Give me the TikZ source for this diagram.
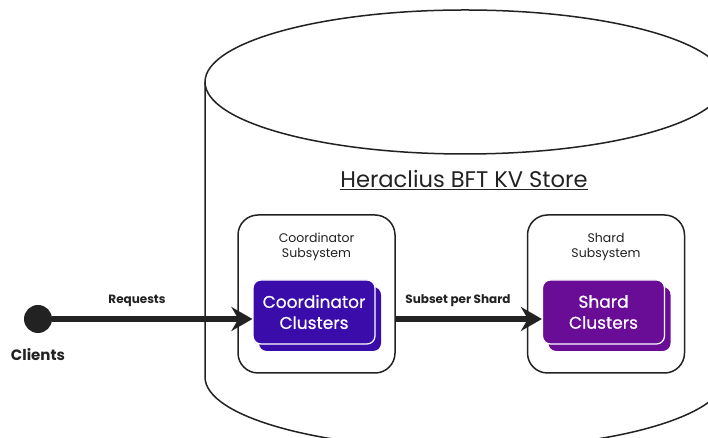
\documentclass[tikz,border=0pt]{standalone}
\usepackage{fontspec}
\setmainfont{Poppins}
\newfontfamily\medfont{Poppins}[FakeBold=0.6]
\usetikzlibrary{arrows.meta,positioning}

\definecolor{coordcol}{HTML}{3A0DAA}
\definecolor{shardcol}{HTML}{690D96}
\definecolor{inkcol}{HTML}{222222}

\tikzset{
  subsys/.style={draw=inkcol, line width=1.5pt, rounded corners=20pt, fill=white,
    minimum width=157pt, minimum height=158pt},
  backbox/.style={fill=#1, rounded corners=8pt, minimum width=122pt, minimum height=64pt},
  cluster/.style={fill=#1, draw=white, line width=1.2pt, rounded corners=8pt,
    minimum width=122pt, minimum height=64pt, inner sep=0pt,
    text=white, align=center, font=\medfont\fontsize{17}{21}\selectfont},
  sublabel/.style={text=inkcol, align=center, font=\fontsize{12.5}{15}\selectfont},
  flowlabel/.style={text=inkcol, font=\bfseries\fontsize{12}{14}\selectfont},
  flow/.style={draw=inkcol, line width=6pt, -{Stealth[length=21pt,width=24pt,inset=7pt]}},
}

\begin{document}
\begin{tikzpicture}[x=1pt,y=1pt]
\useasboundingbox (0,0) rectangle (708,438);
\fill[white] (0,0) rectangle (708,438);
\clip (0,0) rectangle (708,438);

% the store as a cylinder
\draw[inkcol, line width=1.5pt] (465,356) ellipse [x radius=260, y radius=72];
\draw[inkcol, line width=1.5pt] (205,356) -- (205,61)
  arc[start angle=180, end angle=360, x radius=260, y radius=72] -- (725,356);
\node[text=inkcol, font=\fontsize{22.6}{26}\selectfont] (title) at (464,258) {\underline{Heraclius BFT KV Store}};

% subsystems
\node[subsys] (coordsub) at (316.5,144) {};
\node[subsys] (shardsub) at (606,144) {};
\node[sublabel] (coordsublbl) at (316.5,191) {Coordinator\\Subsystem};
\node[sublabel] (shardsublbl) at (606,191) {Shard\\Subsystem};

% clusters
\node[backbox=coordcol] (coordback) at (320,119) {};
\node[cluster=coordcol] (coordcl) at (314,126) {Coordinator\\Clusters};
\node[backbox=shardcol] (shardback) at (609.5,119) {};
\node[cluster=shardcol] (shardcl) at (603.5,126) {Shard\\Clusters};

% clients
\node[circle, fill=inkcol, minimum size=28pt, inner sep=0pt] (client) at (38,119) {};
\node[text=inkcol, font=\bfseries\fontsize{15}{18}\selectfont] (clientlbl) at (38,83) {Clients};

% flows
\draw[flow] (client) -- (client -| coordcl.west);
\draw[flow] (coordsub.east |- client) -- (client -| shardcl.west);
\node[flowlabel] (reqlbl) at (137,137) {Requests};
\node[flowlabel] (subsetlbl) at (458,137) {Subset per Shard};
\end{tikzpicture}
\end{document}
